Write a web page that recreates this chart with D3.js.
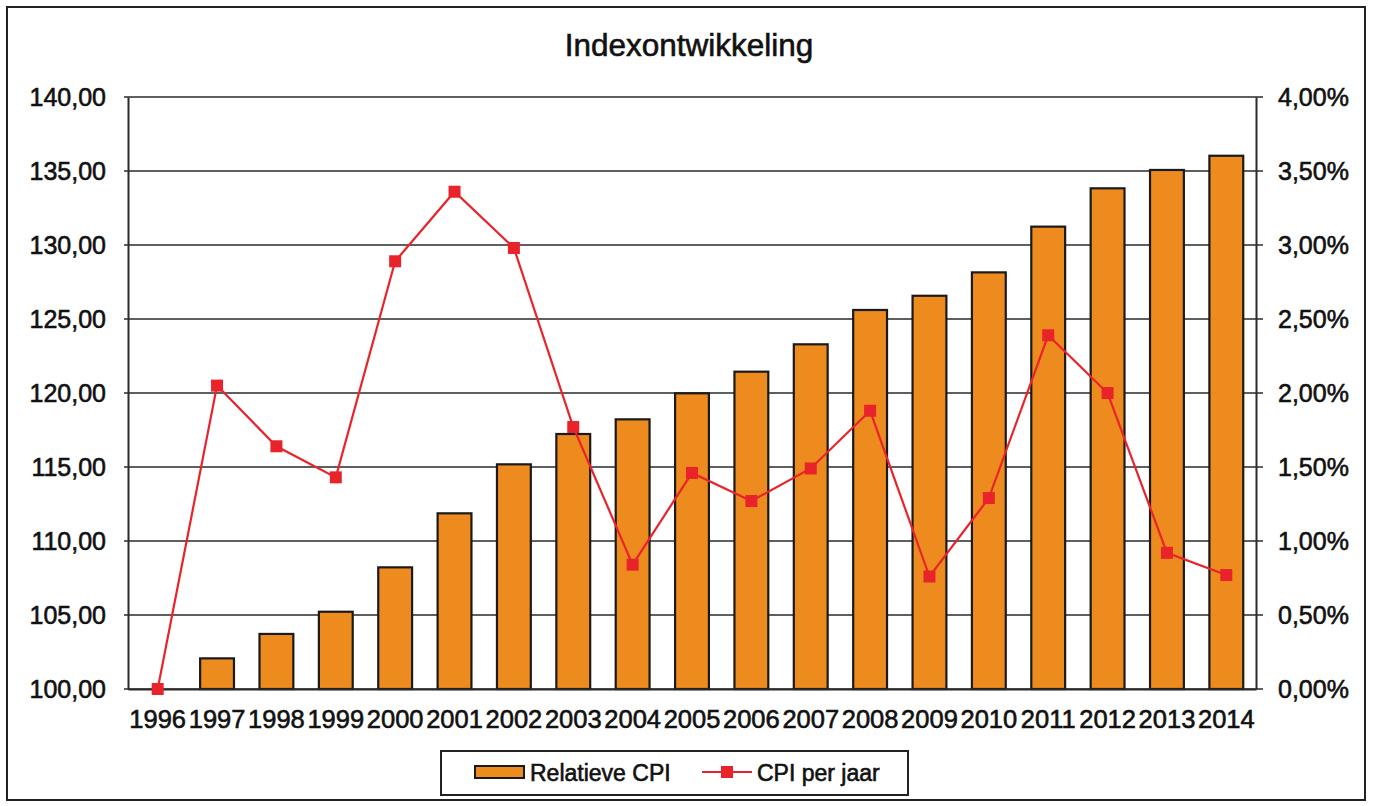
<!DOCTYPE html>
<html>
<head>
<meta charset="utf-8">
<script src="https://cdn.jsdelivr.net/npm/d3@7"></script>
<style>
  html, body { margin: 0; padding: 0; background: #fff; }
  svg { display: block; font-family: Arial, "Liberation Sans", sans-serif; }
  text { stroke: #111; stroke-width: 0.6px; fill: #111; }
</style>
</head>
<body>
<svg id="chart" width="1373" height="806"></svg>
<script>
const years = ["1996","1997","1998","1999","2000","2001","2002","2003","2004","2005","2006","2007","2008","2009","2010","2011","2012","2013","2014"];
const relatieveCPI = [100.00,102.07,103.72,105.22,108.22,111.87,115.18,117.23,118.22,119.98,121.44,123.29,125.61,126.57,128.15,131.24,133.83,135.07,136.03];
const cpiPerJaar = [0.0000,0.0205,0.0164,0.0143,0.0289,0.0336,0.0298,0.0177,0.0084,0.0146,0.0127,0.0149,0.0188,0.0076,0.0129,0.0239,0.0200,0.0092,0.0077];
const leftTicks = [100,105,110,115,120,125,130,135,140];
const rightTicks = [0,0.005,0.01,0.015,0.02,0.025,0.03,0.035,0.04];
const title = "Indexontwikkeling";
const seriesNames = ["Relatieve CPI","CPI per jaar"];

const nl = d3.formatLocale({decimal: ",", thousands: ".", grouping: [3], currency: ["€ ", ""]});
const fmtLeft = nl.format(".2f");
const fmtRight = nl.format(".2%");

const svg = d3.select("#chart");
const m = {left: 128, right: 1256, top: 97, bottom: 689};

const BAR = "#EE8B1F", RED = "#E8242A", GRID = "#2a2a2a";
const FONT = "Arial, 'Liberation Sans', sans-serif";

// outer frame
svg.append("rect").attr("x", 7).attr("y", 7).attr("width", 1358).attr("height", 793)
  .attr("fill", "#fff").attr("stroke", "#222").attr("stroke-width", 2);

const x = d3.scaleBand().domain(years).range([m.left, m.right]).paddingInner(0.43).paddingOuter(0.215);
const xc = d3.scalePoint().domain(years).range([m.left, m.right]).padding(0.5);
const yL = d3.scaleLinear().domain([100, 140]).range([m.bottom, m.top]);
const yR = d3.scaleLinear().domain([0, 0.04]).range([m.bottom, m.top]);

// title
svg.append("text").attr("x", 689).attr("y", 56).attr("text-anchor", "middle")
  .attr("font-size", 31.5).text(title);

// gridlines (with outward ticks on right axis)
svg.append("g").selectAll("line").data(leftTicks).join("line")
  .attr("x1", m.left - 4).attr("x2", m.right + 7)
  .attr("y1", d => yL(d)).attr("y2", d => yL(d))
  .attr("stroke", GRID).attr("stroke-width", 1.6);

// left axis labels
const gL = svg.append("g").attr("transform", `translate(${m.left},0)`)
  .call(d3.axisLeft(yL).tickValues(leftTicks).tickFormat(fmtLeft).tickSize(0).tickPadding(22));
gL.select(".domain").attr("stroke", GRID).attr("stroke-width", 2);
gL.selectAll("text").attr("font-size", 25).attr("fill", "#111").attr("font-family", FONT);

// right axis
const gR = svg.append("g").attr("transform", `translate(${m.right},0)`)
  .call(d3.axisRight(yR).tickValues(rightTicks).tickFormat(fmtRight).tickSize(0).tickPadding(22));
gR.select(".domain").attr("stroke", GRID).attr("stroke-width", 2);
gR.selectAll("text").attr("font-size", 25).attr("fill", "#111").attr("font-family", FONT);

// bars
svg.append("g").selectAll("rect").data(years).join("rect")
  .attr("x", d => x(d)).attr("width", x.bandwidth())
  .attr("y", (d, i) => yL(relatieveCPI[i]))
  .attr("height", (d, i) => yL(100) - yL(relatieveCPI[i]))
  .attr("fill", BAR).attr("stroke", "#1a1a1a").attr("stroke-width", 2.2);

// bottom axis
const gB = svg.append("g").attr("transform", `translate(0,${m.bottom})`)
  .call(d3.axisBottom(x).tickSize(0).tickPadding(21));
gB.select(".domain").attr("stroke", GRID).attr("stroke-width", 2);
gB.selectAll("text").attr("font-size", 25.5).attr("fill", "#111").attr("font-family", FONT);

// line
const line = d3.line().x((d, i) => xc(years[i])).y(d => yR(d));
svg.append("path").datum(cpiPerJaar).attr("d", line)
  .attr("fill", "none").attr("stroke", RED).attr("stroke-width", 2.2);
svg.append("g").selectAll("rect").data(cpiPerJaar).join("rect")
  .attr("x", (d, i) => xc(years[i]) - 6).attr("y", d => yR(d) - 6)
  .attr("width", 12).attr("height", 12).attr("fill", RED);

// legend
const lg = svg.append("g");
lg.append("rect").attr("x", 441).attr("y", 751).attr("width", 467).attr("height", 44)
  .attr("fill", "#fff").attr("stroke", "#222").attr("stroke-width", 2);
lg.append("rect").attr("x", 475).attr("y", 766).attr("width", 49).attr("height", 12)
  .attr("fill", BAR).attr("stroke", "#1a1a1a").attr("stroke-width", 2);
lg.append("text").attr("x", 530).attr("y", 781).attr("font-size", 23).text(seriesNames[0]);
lg.append("line").attr("x1", 702).attr("x2", 752).attr("y1", 772).attr("y2", 772)
  .attr("stroke", RED).attr("stroke-width", 2.2);
lg.append("rect").attr("x", 721).attr("y", 766).attr("width", 12).attr("height", 12).attr("fill", RED);
lg.append("text").attr("x", 757).attr("y", 781).attr("font-size", 23).text(seriesNames[1]);
</script>
</body>
</html>
